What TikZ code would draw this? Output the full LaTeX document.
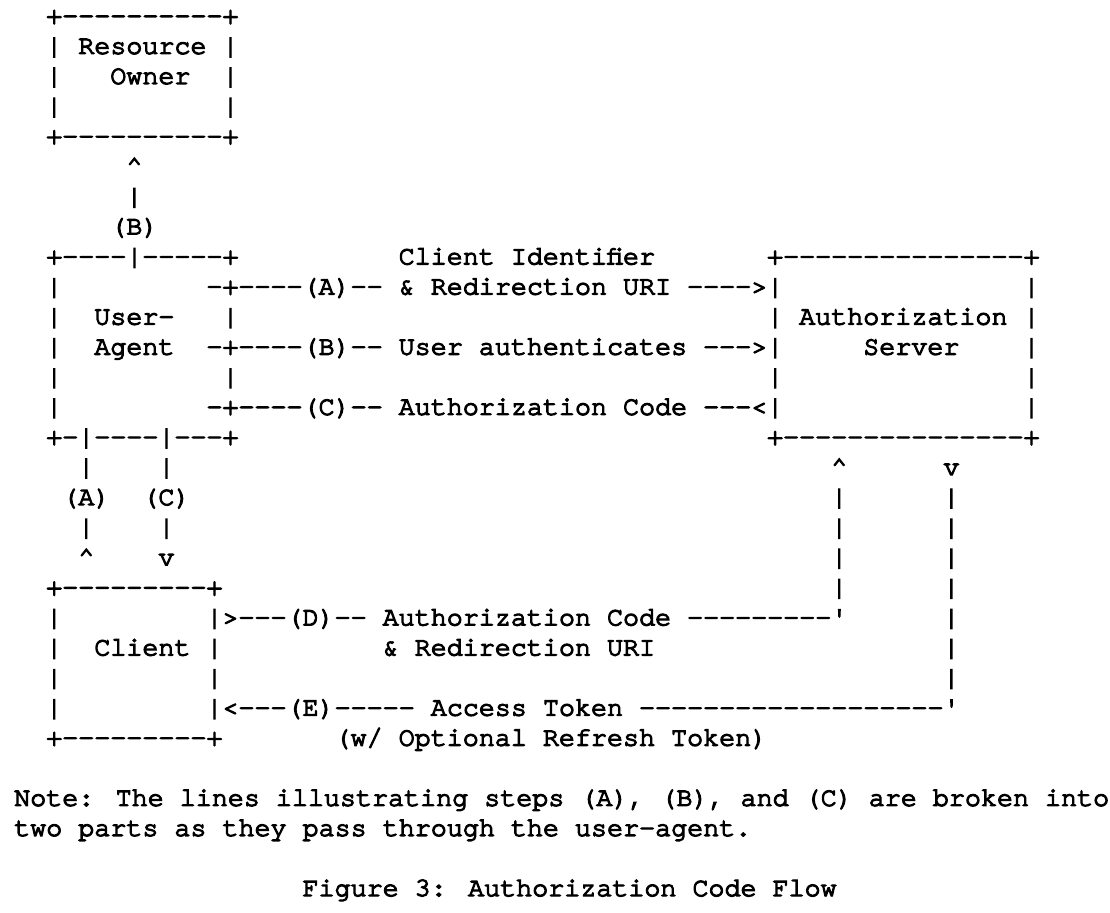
\documentclass[tikz,border=0pt]{standalone}
\usepackage{fontspec}
\newfontfamily\asciifont{TeX Gyre Cursor}[FakeBold=4.5]
\newcommand{\asciisize}{\fontsize{20.03pt}{22.56pt}\selectfont}
\newcommand{\caret}{\textasciicircum}

\begin{document}
\begin{tikzpicture}[x=12.015pt, y=-22.56pt,
  ascii/.style={anchor=base west, inner sep=0pt, font=\asciifont\asciisize}]
\useasboundingbox (-0.871,-0.791) rectangle (68.42,29.53);
% ---- resource owner ----
\node[ascii] (ro-top) at (2,0) {+----------+};
\node[ascii] (ro-name) at (2,1) {| Resource |};
\node[ascii] (ro-owner) at (6,2) {Owner};
\foreach \r in {2,3} {
  \node[ascii] (ro-l\r) at (2,\r) {|};
  \node[ascii] (ro-r\r) at (13,\r) {|};
}
\node[ascii] (ro-bot) at (2,4) {+----------+};
\node[ascii] (b-tip) at (7,5) {\caret};
\node[ascii] (b-bar) at (7,6) {|};
\node[ascii] (b-lbl) at (6,7) {(B)};
% ---- user-agent and authorization server ----
\node[ascii] (ua-top) at (2,8) {+----|-----+};
\node[ascii] (id-lbl) at (24,8) {Client Identifier};
\node[ascii] (as-top) at (47,8) {+---------------+};
\foreach \r in {9,...,13} \node[ascii] (ua-l\r) at (2,\r) {|};
\foreach \r in {9,11,12,13} \node[ascii] (as-r\r) at (63,\r) {|};
\node[ascii] (msg-a) at (12,9) {-+----(A)-- \& Redirection URI ---->|};
\node[ascii] (ua-user) at (5,10) {User-};
\node[ascii] (ua-r10) at (13,10) {|};
\node[ascii] (as-name) at (47,10) {| Authorization |};
\node[ascii] (ua-agent) at (5,11) {Agent};
\node[ascii] (msg-b) at (12,11) {-+----(B)-- User authenticates --->|};
\node[ascii] (as-server) at (53,11) {Server};
\node[ascii] (ua-r12) at (13,12) {|};
\node[ascii] (as-l12) at (47,12) {|};
\node[ascii] (msg-c) at (12,13) {-+----(C)-- Authorization Code ---<|};
\node[ascii] (ua-bot) at (2,14) {+-|----|---+};
\node[ascii] (as-bot) at (47,14) {+---------------+};
% ---- links below ----
\node[ascii] (a-bar15) at (4,15) {|};
\node[ascii] (c-bar15) at (9,15) {|};
\node[ascii] (d-tip) at (51,15) {\caret};
\node[ascii] (e-tip) at (58,15) {v};
\node[ascii] (a-lbl) at (3,16) {(A)};
\node[ascii] (c-lbl) at (8,16) {(C)};
\node[ascii] (a-bar17) at (4,17) {|};
\node[ascii] (c-bar17) at (9,17) {|};
\node[ascii] (a-tip) at (4,18) {\caret};
\node[ascii] (c-tip) at (9,18) {v};
\foreach \r in {16,...,19} \node[ascii] (d-bar\r) at (51,\r) {|};
\foreach \r in {16,...,22} \node[ascii] (e-bar\r) at (58,\r) {|};
% ---- client ----
\node[ascii] (cl-top) at (2,19) {+---------+};
\foreach \r in {20,...,23} \node[ascii] (cl-l\r) at (2,\r) {|};
\node[ascii] (msg-d) at (12,20) {|>---(D)-- Authorization Code ---------'};
\node[ascii] (cl-name) at (5,21) {Client |};
\node[ascii] (d-lbl) at (23,21) {\& Redirection URI};
\node[ascii] (cl-r22) at (12,22) {|};
\node[ascii] (msg-e) at (12,23) {|<---(E)----- Access Token -------------------'};
\node[ascii] (cl-bot) at (2,24) {+---------+};
\node[ascii] (e-lbl) at (20,24) {(w/ Optional Refresh Token)};
% ---- note and caption ----
\node[ascii] (note1) at (0,26) {Note: The lines illustrating steps (A), (B), and (C) are broken into};
\node[ascii] (note2) at (0,27) {two parts as they pass through the user-agent.};
\node[ascii] (caption) at (18,29) {Figure 3: Authorization Code Flow};
\end{tikzpicture}
\end{document}
